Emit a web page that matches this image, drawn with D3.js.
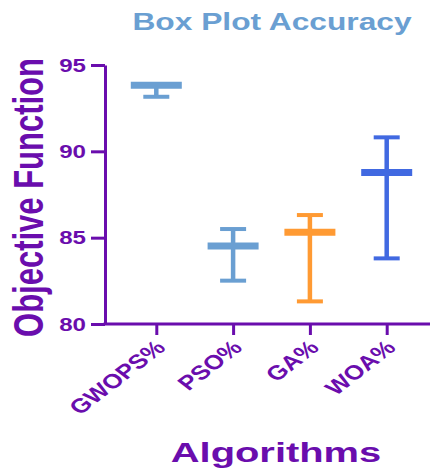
<!DOCTYPE html>
<html>
<head>
<meta charset="utf-8">
<script src="https://cdn.jsdelivr.net/npm/d3@7"></script>
<style>
  html, body { margin: 0; padding: 0; background: #fff; }
  svg { display: block; font-family: "Liberation Sans", Arial, sans-serif; }
</style>
</head>
<body>
<svg id="chart" width="435" height="468"></svg>
<script>
// ---- data ----
const categories = ["GWOPS%", "PSO%", "GA%", "WOA%"];
const meanValues = [93.82, 84.52, 85.31, 88.78];
const minValues  = [93.16, 82.51, 81.31, 83.80];
const maxValues  = [93.90, 85.50, 86.31, 90.81];
const colors     = ["#6a9fd2", "#6a9fd2", "#ff9a33", "#4169e1"];
const yTicks     = [80, 85, 90, 95];

const purple = "#6a0dad";
const SX = 1.38; // horizontal stretch of the reference's text

const svg = d3.select("#chart");

const y = d3.scaleLinear().domain([80, 95]).range([324, 65]);
const x = d3.scalePoint().domain(categories).range([156.3, 386.7]);

const axisX0 = 105, axisX1 = 430;

// y axis
const yAxis = svg.append("g").attr("transform", `translate(${axisX0},0)`)
  .call(d3.axisLeft(y).tickValues(yTicks).tickSize(14).tickSizeOuter(0).tickFormat(d3.format("d")));
yAxis.select(".domain").attr("stroke", purple).attr("stroke-width", 3);
yAxis.selectAll(".tick line").attr("stroke", purple).attr("stroke-width", 3);
yAxis.selectAll(".tick text").remove();
yAxis.selectAll(".tick").append("text")
  .attr("transform", `translate(-19,0) scale(${SX},1)`)
  .attr("text-anchor", "end").attr("dy", "0.36em")
  .attr("fill", purple).attr("font-size", 17.5).attr("font-weight", "bold")
  .text(d => d);

// x axis
const xAxis = svg.append("g").attr("transform", `translate(0,${y(80)})`)
  .call(d3.axisBottom(x).tickSize(11).tickSizeOuter(0));
xAxis.select(".domain").remove();
xAxis.append("line").attr("x1", axisX0 - 1.5).attr("x2", axisX1).attr("y1", 0).attr("y2", 0)
  .attr("stroke", purple).attr("stroke-width", 3);
xAxis.selectAll(".tick line").attr("stroke", purple).attr("stroke-width", 3);
xAxis.selectAll(".tick text").remove();
xAxis.selectAll(".tick").append("text")
  .attr("transform", `translate(10,25) scale(1.3,1) rotate(-45)`)
  .attr("text-anchor", "end")
  .attr("fill", purple).attr("font-size", 20).attr("font-weight", "bold")
  .text(d => d);

// error-bar marks
const marks = svg.append("g").selectAll("g").data(categories).join("g");
marks.append("line")
  .attr("x1", d => x(d)).attr("x2", d => x(d))
  .attr("y1", (d, i) => y(maxValues[i])).attr("y2", (d, i) => y(minValues[i]))
  .attr("stroke", (d, i) => colors[i]).attr("stroke-width", 4.5);
marks.append("line")
  .attr("x1", d => x(d) - 13).attr("x2", d => x(d) + 13)
  .attr("y1", (d, i) => y(maxValues[i])).attr("y2", (d, i) => y(maxValues[i]))
  .attr("stroke", (d, i) => colors[i]).attr("stroke-width", 4);
marks.append("line")
  .attr("x1", d => x(d) - 13).attr("x2", d => x(d) + 13)
  .attr("y1", (d, i) => y(minValues[i])).attr("y2", (d, i) => y(minValues[i]))
  .attr("stroke", (d, i) => colors[i]).attr("stroke-width", 4);
marks.append("line")
  .attr("x1", d => x(d) - 25.5).attr("x2", d => x(d) + 25.5)
  .attr("y1", (d, i) => y(meanValues[i])).attr("y2", (d, i) => y(meanValues[i]))
  .attr("stroke", (d, i) => colors[i]).attr("stroke-width", 7);

// titles
svg.append("text")
  .attr("transform", `translate(272,30) scale(${SX},1)`)
  .attr("text-anchor", "middle").attr("fill", "#6a9fd2")
  .attr("font-size", 23).attr("font-weight", "bold")
  .text("Box Plot Accuracy");

svg.append("text")
  .attr("transform", `translate(42.5,197.5) scale(${SX},1) rotate(-90)`)
  .attr("text-anchor", "middle").attr("fill", purple)
  .attr("font-size", 31).attr("font-weight", "bold")
  .text("Objective Function");

svg.append("text")
  .attr("transform", `translate(276,462) scale(1.4,1)`)
  .attr("text-anchor", "middle").attr("fill", purple)
  .attr("font-size", 28.5).attr("font-weight", "bold")
  .text("Algorithms");
</script>
</body>
</html>
